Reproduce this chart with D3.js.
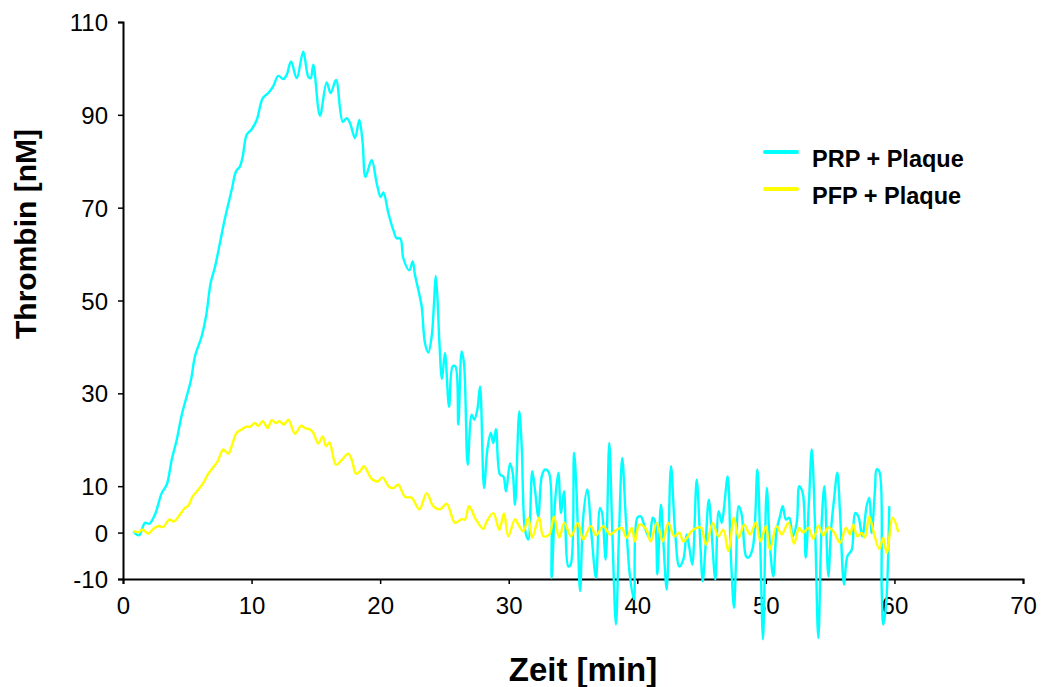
<!DOCTYPE html>
<html>
<head>
<meta charset="utf-8">
<script src="https://cdn.jsdelivr.net/npm/d3@7"></script>
<style>
  html, body { margin: 0; padding: 0; background: #fff; }
  svg { display: block; font-family: "Liberation Sans", Arial, sans-serif; }
</style>
</head>
<body>
<svg id="chart" width="1043" height="687"></svg>
<script>
// ---- data ----
const seriesNames = ["PRP + Plaque", "PFP + Plaque"];
const xTicks = [0, 10, 20, 30, 40, 50, 60, 70];
const yTicks = [-10, 0, 10, 30, 50, 70, 90, 110];

// [time (min), thrombin (nM)]
const prpPlaque = [
[0.80,0.3],[1.24,-0.6],[1.71,2.1],[2.05,1.9],[2.49,3.9],[3.01,8.5],[3.40,10.3],[3.79,15.7],[4.18,20.0],[4.57,25.4],
[4.95,29.3],[5.29,32.9],[5.60,38.0],[6.12,42.3],[6.46,46.6],[6.82,53.8],[7.16,57.3],[7.54,62.4],[7.93,67.7],[8.45,73.8],
[8.79,77.8],[9.10,78.9],[9.31,81.0],[9.62,85.7],[10.01,86.9],[10.40,88.9],[10.87,93.6],[11.30,94.7],[11.69,96.2],[12.08,98.4],
[12.47,97.7],[12.73,98.6],[13.07,101.5],[13.51,97.9],[14.02,103.6],[14.41,98.2],[14.60,97.9],[14.80,100.8],[15.32,89.8],[15.84,97.0],
[16.15,94.7],[16.57,97.5],[17.09,88.5],[17.40,89.3],[17.66,88.2],[18.04,85.0],[18.38,88.9],[18.64,83.9],[18.86,76.6],[19.34,80.3],
[19.73,75.3],[20.04,72.3],[20.25,73.3],[20.64,68.8],[21.02,65.2],[21.29,63.4],[21.57,63.4],[21.80,59.1],[22.27,56.5],[22.53,58.4],
[22.71,55.5],[22.97,52.3],[23.23,48.7],[23.49,40.8],[23.75,38.8],[24.01,42.3],[24.19,49.4],[24.32,55.3],[24.45,50.9],[24.60,41.5],
[24.81,33.1],[25.04,38.7],[25.36,27.1],[25.64,35.8],[25.85,35.8],[26.08,23.3],[26.34,39.0],[26.52,36.5],[26.81,14.6],[27.12,25.4],
[27.32,24.3],[27.56,26.5],[27.77,31.5],[28.08,9.6],[28.34,17.9],[28.60,21.5],[28.80,19.3],[29.01,22.3],[29.32,12.5],[29.58,12.1],
[29.79,8.9],[30.10,14.9],[30.31,12.9],[30.49,6.0],[30.82,26.1],[31.01,18.6],[31.27,0.6],[31.52,-1.5],[31.83,13.2],[32.04,9.3],
[32.30,3.5],[32.57,12.1],[32.82,13.6],[33.13,12.9],[33.34,-9.8],[33.60,6.4],[33.86,12.9],[34.07,4.2],[34.30,8.9],[34.64,-7.3],
[34.82,-6.9],[35.08,17.2],[35.29,7.8],[35.55,-12.6],[35.80,3.5],[36.11,9.3],[36.45,-0.8],[36.79,-9.8],[37.10,5.3],[37.26,4.2],
[37.54,-5.8],[37.82,19.3],[38.06,-0.1],[38.34,-19.8],[38.58,0.0],[38.83,16.1],[39.10,3.5],[39.43,-9.4],[39.74,-14.4],[40.00,3.2],
[40.27,3.5],[40.60,1.0],[40.94,-1.1],[41.20,3.2],[41.38,2.4],[41.56,-9.0],[41.84,6.0],[42.02,-1.5],[42.29,-12.3],[42.62,14.3],
[42.93,0.6],[43.27,-7.3],[43.58,-5.8],[43.84,-0.4],[44.05,-3.3],[44.28,-6.9],[44.62,11.4],[44.88,-1.1],[45.09,-10.5],[45.29,-3.7],
[45.56,7.1],[45.79,-0.4],[46.07,-10.1],[46.33,4.6],[46.57,2.1],[46.77,6.0],[47.03,12.1],[47.29,-5.8],[47.52,-16.2],[47.68,-6.5],
[47.89,5.7],[48.12,3.9],[48.46,-5.1],[48.64,-5.4],[48.98,-3.3],[49.34,13.6],[49.55,-1.1],[49.78,-23.0],[50.07,9.6],[50.32,-2.9],
[50.58,-9.4],[50.84,0.6],[51.10,3.5],[51.31,5.7],[51.57,2.8],[51.82,3.2],[52.09,-0.8],[52.40,2.1],[52.60,10.0],[52.87,8.5],
[53.10,-5.4],[53.36,7.1],[53.57,17.9],[53.82,2.1],[54.08,-22.7],[54.34,2.1],[54.55,10.0],[54.86,-9.4],[55.07,0.6],[55.30,7.1],
[55.56,12.9],[55.77,4.2],[56.08,-11.2],[56.34,-5.1],[56.68,-3.7],[56.94,4.2],[57.19,3.5],[57.50,-0.8],[57.84,5.7],[58.05,7.5],
[58.23,-0.1],[58.49,9.3],[58.62,13.6],[58.82,13.2],[59.01,-12.3],[59.13,-19.8],[59.34,-15.9],[59.60,5.7]
];

const pfpPlaque = [
[0.80,0.3],[1.19,0.1],[1.53,0.6],[1.97,-0.2],[2.36,0.8],[2.75,1.4],[3.13,1.2],[3.60,2.8],[3.97,2.4],[4.43,3.9],
[4.82,5.3],[5.08,5.8],[5.42,7.8],[5.78,9.0],[6.25,10.7],[6.59,12.5],[6.98,13.9],[7.37,15.4],[7.80,17.9],[8.19,17.0],
[8.45,18.6],[8.84,21.5],[9.23,22.2],[9.57,22.8],[9.88,22.8],[10.27,23.6],[10.52,23.0],[10.87,24.0],[11.25,22.5],[11.57,24.2],
[11.90,23.6],[12.16,24.0],[12.52,23.3],[12.86,24.3],[13.38,21.3],[13.84,23.0],[14.16,22.5],[14.54,22.2],[14.80,21.5],[15.19,19.2],
[15.53,20.7],[15.79,18.6],[16.05,19.4],[16.57,14.6],[17.01,15.6],[17.52,17.0],[17.79,15.7],[18.12,12.7],[18.43,13.2],[18.74,14.3],
[19.34,11.6],[19.81,11.0],[20.17,11.9],[20.71,9.8],[21.02,9.6],[21.41,10.3],[21.93,7.7],[22.45,7.5],[23.05,5.0],[23.62,8.5],
[24.13,5.7],[24.66,5.0],[25.18,6.2],[25.82,2.1],[26.34,2.9],[26.60,2.8],[26.91,5.7],[27.43,2.9],[28.02,0.8],[28.29,2.4],
[28.80,4.2],[29.27,0.6],[29.63,4.1],[29.97,-0.8],[30.49,2.9],[30.75,1.7],[31.14,0.3],[31.52,3.2],[31.83,-1.1],[32.36,3.2],
[32.69,-0.8],[33.16,-0.4],[33.52,3.5],[33.93,-1.1],[34.32,2.1],[34.84,-0.8],[35.37,2.1],[35.80,-1.5],[36.38,1.4],[36.79,-0.6],
[37.36,1.4],[37.88,-0.4],[38.40,0.6],[38.79,1.0],[39.18,-1.1],[39.57,1.0],[39.82,-1.9],[40.16,1.7],[40.68,0.8],[41.04,-1.9],
[41.51,2.1],[41.98,-1.9],[42.41,2.1],[42.88,-0.8],[43.27,0.0],[43.58,-1.9],[44.23,0.3],[44.62,1.0],[44.96,1.1],[45.35,-2.6],
[45.87,2.1],[46.30,-0.8],[46.69,0.6],[47.08,-4.0],[47.52,3.2],[47.89,-1.1],[48.32,1.7],[48.77,-0.4],[49.23,2.2],[49.58,-1.9],
[50.01,1.4],[50.32,-3.7],[50.84,1.4],[51.23,-0.4],[51.75,2.1],[52.19,-2.4],[52.60,1.0],[52.91,0.0],[53.30,1.0],[53.69,-1.4],
[54.08,1.5],[54.47,-0.6],[54.86,1.1],[55.30,0.1],[55.77,-2.2],[56.23,1.0],[56.54,-0.4],[56.80,1.7],[57.11,-0.8],[57.45,0.0],
[57.71,-1.1],[58.04,3.5],[58.36,0.3],[58.82,-3.5],[59.13,-1.1],[59.40,-4.4],[59.87,3.2],[60.30,0.1]
];

const seriesData = [prpPlaque, pfpPlaque];
const seriesColors = ["#00FFFF", "#FFFF00"];

// ---- layout ----
const svg = d3.select("#chart");
const plotLeft = 123, plotRight = 1023, plotTop = 22, plotBottom = 579;

const x = d3.scaleLinear().domain([0, 70]).range([plotLeft, plotRight]);
const y = d3.scaleLinear().domain([-10, 110]).range([plotBottom, plotTop]);

// axes (plain hyphen minus like the original)
const fmt = d => String(d);
const xAxis = d3.axisBottom(x).tickValues(xTicks).tickSize(5).tickPadding(13).tickFormat(fmt);
const yAxis = d3.axisLeft(y).tickValues(yTicks).tickSize(5).tickPadding(10).tickFormat(fmt);

const gx = svg.append("g").attr("transform", `translate(0,${plotBottom})`).call(xAxis);
const gy = svg.append("g").attr("transform", `translate(${plotLeft},0)`).call(yAxis);

[gx, gy].forEach(g => {
  g.select(".domain").attr("stroke", "#000").attr("stroke-width", 2);
  g.selectAll(".tick line").attr("stroke", "#000").attr("stroke-width", 1.5);
  g.selectAll(".tick text").attr("fill", "#000").style("font-size", "24px")
    .style("font-family", "'Liberation Sans', Arial, sans-serif");
});
gy.selectAll(".tick text").attr("dy", "0.36em");

// lines
const line = d3.line()
  .x(d => x(d[0]))
  .y(d => y(d[1]))
  .curve(d3.curveCatmullRom.alpha(0.5));

seriesData.forEach((data, i) => {
  svg.append("path")
    .datum(data)
    .attr("fill", "none")
    .attr("stroke", seriesColors[i])
    .attr("stroke-width", 2.4)
    .attr("stroke-linejoin", "round")
    .attr("d", line);
});

// axis titles
svg.append("text")
  .attr("x", 583).attr("y", 681)
  .attr("text-anchor", "middle")
  .style("font-size", "33px").style("font-weight", "bold")
  .text("Zeit [min]");

svg.append("text")
  .attr("transform", "translate(36,234) rotate(-90)")
  .attr("text-anchor", "middle")
  .style("font-size", "30px").style("font-weight", "bold")
  .text("Thrombin [nM]");

// legend
const legend = svg.append("g");
seriesNames.forEach((name, i) => {
  const ly = 152 + i * 37;
  legend.append("line")
    .attr("x1", 765).attr("x2", 797).attr("y1", ly).attr("y2", ly)
    .attr("stroke", seriesColors[i]).attr("stroke-width", 4).attr("stroke-linecap", "round");
  legend.append("text")
    .attr("x", 812).attr("y", ly + 15)
    .style("font-size", "23.5px").style("font-weight", "bold")
    .text(name);
});
</script>
</body>
</html>
